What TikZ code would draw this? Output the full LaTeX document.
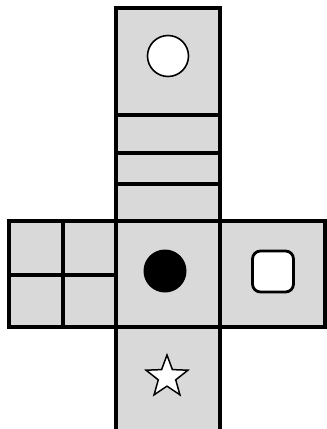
\documentclass[tikz,border=0pt]{standalone}
\usetikzlibrary{shapes.geometric}
\definecolor{facegray}{RGB}{217,217,217}
\begin{document}
\begin{tikzpicture}[x=1pt,y=-1pt,
  edge/.style={line width=3.2pt,line cap=rect,line join=miter},
  sym/.style={inner sep=0pt,outer sep=0pt}]
\useasboundingbox (0,0) rectangle (327,429);
% gray faces
\fill[facegray] (116,8) rectangle (220,429);
\fill[facegray] (9,221) rectangle (325,327);
% outline of column
\draw[edge] (116,432) -- (116,8) -- (220,8) -- (220,432);
\draw[edge] (116,115) -- (220,115);
\draw[edge] (116,153) -- (220,153);
\draw[edge] (116,184) -- (220,184);
% row
\draw[edge] (9,221) rectangle (325,327);
\draw[edge] (63,221) -- (63,327);
\draw[edge] (9,275) -- (116,275);
% symbols
\node[sym,circle,draw,fill=white,line width=1.6pt,minimum size=41pt] (c1) at (168,56) {};
\node[sym,circle,fill=black,minimum size=43pt] (c2) at (165,271) {};
\node[sym,rectangle,rounded corners=8pt,draw,fill=white,line width=2.8pt,minimum size=41pt] (sq) at (273,271.5) {};
\node[sym,star,star points=5,star point ratio=2.4,draw,fill=white,line width=1.5pt,minimum size=44pt] (st) at (167,377) {};
\end{tikzpicture}
\end{document}
